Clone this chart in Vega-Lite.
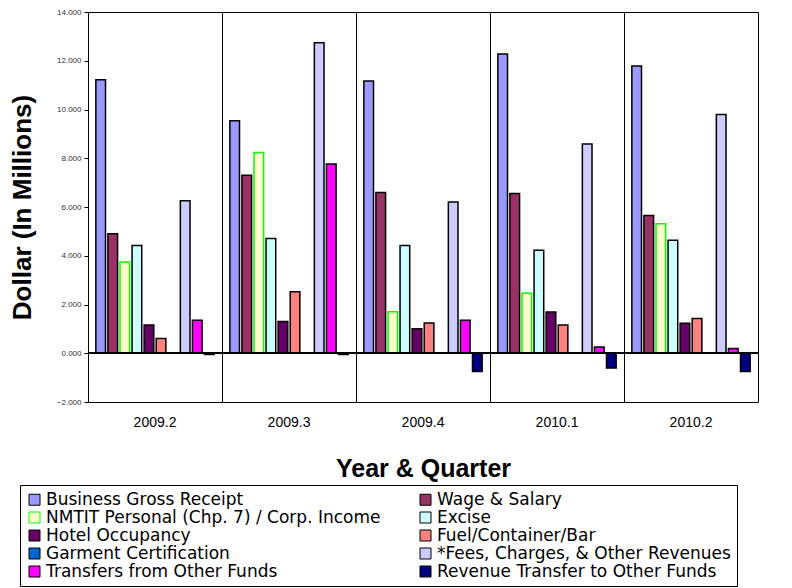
{
  "$schema": "https://vega.github.io/schema/vega-lite/v6.json",
  "autosize": {"type": "none"},
  "padding": {"left": 88, "top": 12, "right": 34, "bottom": 186},
  "width": 670,
  "height": 390,
  "background": "white",
  "config": {
    "view": {"stroke": "black", "strokeWidth": 1},
    "font": "Liberation Sans"
  },
  "data": {
    "values": [
      {"q": "2009.2", "s": "Business Gross Receipt", "v": 11.22},
      {"q": "2009.2", "s": "Wage & Salary", "v": 4.90},
      {"q": "2009.2", "s": "NMTIT Personal (Chp. 7) / Corp. Income", "v": 3.74},
      {"q": "2009.2", "s": "Excise", "v": 4.42},
      {"q": "2009.2", "s": "Hotel Occupancy", "v": 1.16},
      {"q": "2009.2", "s": "Fuel/Container/Bar", "v": 0.61},
      {"q": "2009.2", "s": "Garment Certification", "v": 0},
      {"q": "2009.2", "s": "*Fees, Charges, & Other Revenues", "v": 6.26},
      {"q": "2009.2", "s": "Transfers from Other Funds", "v": 1.35},
      {"q": "2009.2", "s": "Revenue Transfer to Other Funds", "v": -0.05},
      {"q": "2009.3", "s": "Business Gross Receipt", "v": 9.54},
      {"q": "2009.3", "s": "Wage & Salary", "v": 7.30},
      {"q": "2009.3", "s": "NMTIT Personal (Chp. 7) / Corp. Income", "v": 8.24},
      {"q": "2009.3", "s": "Excise", "v": 4.71},
      {"q": "2009.3", "s": "Hotel Occupancy", "v": 1.30},
      {"q": "2009.3", "s": "Fuel/Container/Bar", "v": 2.52},
      {"q": "2009.3", "s": "Garment Certification", "v": 0},
      {"q": "2009.3", "s": "*Fees, Charges, & Other Revenues", "v": 12.74},
      {"q": "2009.3", "s": "Transfers from Other Funds", "v": 7.76},
      {"q": "2009.3", "s": "Revenue Transfer to Other Funds", "v": -0.05},
      {"q": "2009.4", "s": "Business Gross Receipt", "v": 11.17},
      {"q": "2009.4", "s": "Wage & Salary", "v": 6.60},
      {"q": "2009.4", "s": "NMTIT Personal (Chp. 7) / Corp. Income", "v": 1.70},
      {"q": "2009.4", "s": "Excise", "v": 4.42},
      {"q": "2009.4", "s": "Hotel Occupancy", "v": 1.01},
      {"q": "2009.4", "s": "Fuel/Container/Bar", "v": 1.24},
      {"q": "2009.4", "s": "Garment Certification", "v": 0},
      {"q": "2009.4", "s": "*Fees, Charges, & Other Revenues", "v": 6.21},
      {"q": "2009.4", "s": "Transfers from Other Funds", "v": 1.35},
      {"q": "2009.4", "s": "Revenue Transfer to Other Funds", "v": -0.75},
      {"q": "2010.1", "s": "Business Gross Receipt", "v": 12.28},
      {"q": "2010.1", "s": "Wage & Salary", "v": 6.55},
      {"q": "2010.1", "s": "NMTIT Personal (Chp. 7) / Corp. Income", "v": 2.46},
      {"q": "2010.1", "s": "Excise", "v": 4.23},
      {"q": "2010.1", "s": "Hotel Occupancy", "v": 1.69},
      {"q": "2010.1", "s": "Fuel/Container/Bar", "v": 1.16},
      {"q": "2010.1", "s": "Garment Certification", "v": 0},
      {"q": "2010.1", "s": "*Fees, Charges, & Other Revenues", "v": 8.58},
      {"q": "2010.1", "s": "Transfers from Other Funds", "v": 0.26},
      {"q": "2010.1", "s": "Revenue Transfer to Other Funds", "v": -0.61},
      {"q": "2010.2", "s": "Business Gross Receipt", "v": 11.78},
      {"q": "2010.2", "s": "Wage & Salary", "v": 5.65},
      {"q": "2010.2", "s": "NMTIT Personal (Chp. 7) / Corp. Income", "v": 5.31},
      {"q": "2010.2", "s": "Excise", "v": 4.64},
      {"q": "2010.2", "s": "Hotel Occupancy", "v": 1.23},
      {"q": "2010.2", "s": "Fuel/Container/Bar", "v": 1.43},
      {"q": "2010.2", "s": "Garment Certification", "v": 0},
      {"q": "2010.2", "s": "*Fees, Charges, & Other Revenues", "v": 9.80},
      {"q": "2010.2", "s": "Transfers from Other Funds", "v": 0.19},
      {"q": "2010.2", "s": "Revenue Transfer to Other Funds", "v": -0.75}
    ]
  },
  "layer": [
    {
      "mark": {"type": "bar", "strokeWidth": 1.5},
      "encoding": {
        "x": {
          "field": "q", "type": "nominal", "sort": null,
          "scale": {"paddingInner": 0, "paddingOuter": 0},
          "axis": {
            "title": "Year & Quarter", "titleFontSize": 25, "titleFontWeight": "bold",
            "titleColor": "black", "titlePadding": 27,
            "labelAngle": 0, "labelFontSize": 14, "labelColor": "black", "labelPadding": 13,
            "ticks": false, "domain": false,
            "grid": true, "gridColor": "black", "gridOpacity": 1, "gridWidth": 1,
            "bandPosition": 0
          }
        },
        "xOffset": {
          "field": "s", "type": "nominal", "sort": null,
          "scale": {
            "domain": ["Business Gross Receipt", "Wage & Salary", "NMTIT Personal (Chp. 7) / Corp. Income", "Excise", "Hotel Occupancy", "Fuel/Container/Bar", "Garment Certification", "*Fees, Charges, & Other Revenues", "Transfers from Other Funds", "Revenue Transfer to Other Funds"],
            "paddingInner": 0.2, "paddingOuter": 0.65
          }
        },
        "y": {
          "field": "v", "type": "quantitative",
          "scale": {"domain": [-2, 14], "nice": false, "zero": false},
          "axis": {
            "title": "Dollar (In Millions)", "titleFontSize": 26, "titleFontWeight": "bold",
            "titleColor": "black", "titlePadding": 21,
            "values": [-2, 0, 2, 4, 6, 8, 10, 12, 14], "format": ".3f",
            "labelFontSize": 8, "labelColor": "#333333", "labelPadding": 3,
            "tickSize": 4, "tickColor": "black", "domainColor": "black",
            "grid": false
          }
        },
        "fill": {
          "field": "s", "type": "nominal", "sort": null,
          "scale": {
            "domain": ["Business Gross Receipt", "Wage & Salary", "NMTIT Personal (Chp. 7) / Corp. Income", "Excise", "Hotel Occupancy", "Fuel/Container/Bar", "Garment Certification", "*Fees, Charges, & Other Revenues", "Transfers from Other Funds", "Revenue Transfer to Other Funds"],
            "range": ["#9999FF", "#993366", "#FFFFCC", "#CCFFFF", "#660066", "#FF8080", "#0066CC", "#CCCCFF", "#FF00FF", "#000080"]
          },
          "legend": {
            "title": null, "orient": "none", "legendX": -68, "legendY": 473,
            "direction": "horizontal", "columns": 2, "gridAlign": "each",
            "columnPadding": 36, "rowPadding": 0,
            "symbolType": "square", "symbolSize": 121, "symbolStrokeWidth": 1,
            "labelFont": "DejaVu Sans", "labelFontSize": 17, "labelColor": "black", "labelOffset": 3, "labelLimit": 500,
            "strokeColor": "black", "fillColor": "white", "padding": 6
          }
        },
        "stroke": {
          "field": "s", "type": "nominal", "sort": null,
          "scale": {
            "domain": ["Business Gross Receipt", "Wage & Salary", "NMTIT Personal (Chp. 7) / Corp. Income", "Excise", "Hotel Occupancy", "Fuel/Container/Bar", "Garment Certification", "*Fees, Charges, & Other Revenues", "Transfers from Other Funds", "Revenue Transfer to Other Funds"],
            "range": ["black", "black", "#00FF00", "black", "black", "black", "black", "black", "black", "black"]
          },
          "legend": null
        }
      }
    },
    {
      "mark": {"type": "rule", "color": "black", "strokeWidth": 1},
      "encoding": {"y": {"datum": 0, "type": "quantitative"}}
    }
  ]
}
